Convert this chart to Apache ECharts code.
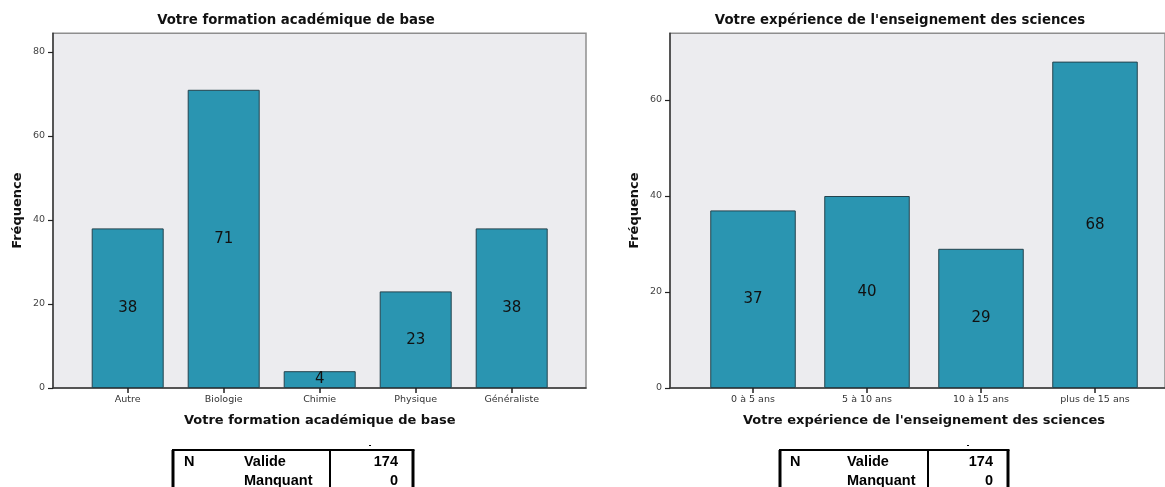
<!DOCTYPE html>
<html>
<head>
<meta charset="utf-8">
<script src="https://cdn.jsdelivr.net/npm/echarts@6/dist/echarts.min.js"></script>
<style>
  html, body { margin: 0; padding: 0; background: #fff; }
  #chart { width: 1165px; height: 487px; }
</style>
</head>
<body>
<div id="chart"></div>
<script>
// Frequency data for the two survey questions
const formationTitle = 'Votre formation académique de base';
const formationCategories = ['Autre', 'Biologie', 'Chimie', 'Physique', 'Généraliste'];
const formationCounts = [38, 71, 4, 23, 38];
const formationTicks = [0, 20, 40, 60, 80];

const experienceTitle = "Votre expérience de l'enseignement des sciences";
const experienceCategories = ['0 à 5 ans', '5 à 10 ans', '10 à 15 ans', 'plus de 15 ans'];
const experienceCounts = [37, 40, 29, 68];
const experienceTicks = [0, 20, 40, 60];

// Summary table rows (N)
const statLabels = ['Valide', 'Manquant'];
const statValues = [174, 0];

const yAxisName = 'Fréquence';

const FONT = 'DejaVu Sans';
const TABLE_FONT = 'Liberation Sans';
const BAR_COLOR = '#2a95b1';
const BAR_BORDER = '#24434d';
const PLOT_BG = '#ececef';
const AXIS_COLOR = '#3a3a3a';

const TOP = 33.3;
const HEIGHT = 354.7;

// Each panel: an outer framed grid carrying the y axis, and an inner,
// inset grid carrying the category axis and the bars.
const panels = [
  { box: [53, 533], inner: [79.7, 480], yMax: 84.45, titleX: 296,
    title: formationTitle, cats: formationCategories, data: formationCounts, ticks: formationTicks },
  { box: [670, 508], inner: [696, 456], yMax: 73.9, titleX: 900,
    title: experienceTitle, cats: experienceCategories, data: experienceCounts, ticks: experienceTicks }
];

const grid = [], xAxis = [], yAxis = [], series = [], title = [];

panels.forEach((p, i) => {
  const g0 = grid.length;
  grid.push({
    left: p.box[0], top: TOP, width: p.box[1], height: HEIGHT,
    show: true, backgroundColor: PLOT_BG, borderColor: '#8e8e8e', borderWidth: 1.5
  });
  grid.push({ left: p.inner[0], top: TOP, width: p.inner[1], height: HEIGHT });

  xAxis.push({
    gridIndex: g0, type: 'value', min: 0, max: 1,
    axisLine: { show: true, lineStyle: { color: AXIS_COLOR, width: 1.5 } },
    axisTick: { show: false }, axisLabel: { show: false }, splitLine: { show: false }
  });
  xAxis.push({
    gridIndex: g0 + 1, type: 'category', data: p.cats,
    axisLine: { show: false },
    axisTick: { show: true, alignWithLabel: true, length: 5, lineStyle: { color: '#222', width: 1.5 } },
    axisLabel: { fontSize: 9.5, color: '#333', margin: 7, fontFamily: FONT },
    name: p.title, nameLocation: 'middle', nameGap: 26,
    nameTextStyle: { fontSize: 13, fontWeight: 'bold', color: '#111', fontFamily: FONT }
  });

  yAxis.push({
    gridIndex: g0, type: 'value', min: 0, max: p.yMax,
    axisLine: { show: true, lineStyle: { color: AXIS_COLOR, width: 1.5 } },
    axisTick: { show: true, length: 5, customValues: p.ticks, lineStyle: { color: '#222', width: 1.2 } },
    axisLabel: { customValues: p.ticks, fontSize: 9.5, color: '#444', margin: 8, fontFamily: FONT },
    splitLine: { show: false },
    name: yAxisName, nameLocation: 'middle', nameRotate: 90, nameGap: 29,
    nameTextStyle: { fontSize: 13, fontWeight: 'bold', color: '#111', fontFamily: FONT }
  });
  yAxis.push({ gridIndex: g0 + 1, type: 'value', min: 0, max: p.yMax, show: false });

  series.push({
    type: 'bar', xAxisIndex: g0 + 1, yAxisIndex: g0 + 1,
    data: p.data, barWidth: '75%',
    itemStyle: { color: BAR_COLOR, borderColor: BAR_BORDER, borderWidth: 1 },
    label: { show: true, position: 'inside', fontSize: 15, color: '#111', fontFamily: FONT }
  });

  title.push({
    text: p.title, left: p.titleX, top: 14, textAlign: 'center', padding: 0,
    textStyle: { fontSize: 13.3, fontWeight: 'bold', color: '#111', fontFamily: FONT }
  });
});

// Statistics tables below each chart
function statTable(x0, xDiv, x1, nX, labelX, valueX) {
  const top = 450, bottom = 495;
  const line = (x1_, y1_, x2_, y2_, w) => ({
    type: 'line', shape: { x1: x1_, y1: y1_, x2: x2_, y2: y2_ },
    style: { stroke: '#000', lineWidth: w }, silent: true
  });
  const txt = (x, y, s, align) => ({
    type: 'text', x: x, y: y,
    style: { text: String(s), fill: '#000', font: 'bold 14.5px "' + TABLE_FONT + '"',
             align: align, verticalAlign: 'middle' }, silent: true
  });
  const els = [
    line(x0 - 1, top, x1 + 1.5, top, 2),
    line(x0, top, x0, bottom, 3),
    line(xDiv, top, xDiv, bottom, 2),
    line(x1, top, x1, bottom, 3),
    line(xDiv + 39, 445.5, xDiv + 41, 445.5, 1),
    txt(nX, 462, 'N', 'left')
  ];
  statLabels.forEach((lab, k) => {
    els.push(txt(labelX, 462 + k * 19, lab, 'left'));
    els.push(txt(valueX, 462 + k * 19, statValues[k], 'right'));
  });
  return els;
}

const graphic = [].concat(
  statTable(173, 330, 413, 184, 244, 398),
  statTable(780, 928, 1008, 790, 847, 993)
);

const chart = echarts.init(document.getElementById('chart'), null, { renderer: 'canvas' });
chart.setOption({
  animation: false,
  backgroundColor: '#fff',
  title, grid, xAxis, yAxis, series, graphic
});
</script>
</body>
</html>
